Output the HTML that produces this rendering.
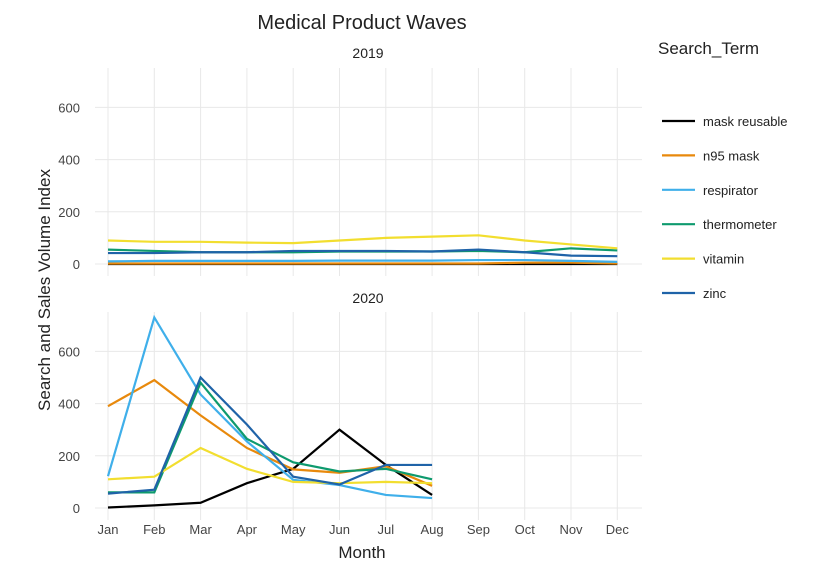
<!DOCTYPE html>
<html><head><meta charset="utf-8"><style>
body{margin:0;background:#fff;font-family:"Liberation Sans",sans-serif}
</style></head><body>
<svg id="chart" width="840" height="583" xmlns="http://www.w3.org/2000/svg" font-family="Liberation Sans, sans-serif"></svg>
<script>
const months=["Jan","Feb","Mar","Apr","May","Jun","Jul","Aug","Sep","Oct","Nov","Dec"];
const terms=["mask reusable","n95 mask","respirator","thermometer","vitamin","zinc"];
const colors=["#000000","#E8890C","#3FAFEA","#0E9A6E","#F2DE2F","#1F63A8"];
const yTicks=[0,200,400,600];
const d2019_mask=[0,0,0,0,0,0,0,0,0,0,0,0];
const d2019_n95=[2,2,2,2,2,2,2,2,2,5,5,2];
const d2019_resp=[10,12,12,12,12,13,13,13,15,15,12,8];
const d2019_therm=[55,50,45,45,45,48,48,48,50,45,60,52];
const d2019_vit=[90,85,85,82,80,90,100,105,110,90,75,60];
const d2019_zinc=[42,42,45,45,50,50,50,48,55,45,32,30];
const d2020_mask=[2,10,20,95,150,300,165,50];
const d2020_n95=[390,490,355,230,148,135,160,85];
const d2020_resp=[122,730,435,255,108,88,50,38];
const d2020_therm=[60,60,480,265,175,140,150,110];
const d2020_vit=[110,120,230,150,100,95,100,95];
const d2020_zinc=[55,70,500,320,120,90,165,165];
const s2019=[d2019_mask,d2019_n95,d2019_resp,d2019_therm,d2019_vit,d2019_zinc];
const s2020=[d2020_mask,d2020_n95,d2020_resp,d2020_therm,d2020_vit,d2020_zinc];

const svg=document.getElementById('chart');
const NS="http://www.w3.org/2000/svg";
function mk(t,a,txt){const e=document.createElementNS(NS,t);for(const k in a)e.setAttribute(k,a[k]);if(txt!=null)e.textContent=txt;svg.appendChild(e);return e;}
const x0=95,x1=642;
const xScale=i=>108+i*46.3;
const panels=[{label:"2019",zero:264,top:68,bot:276,data:s2019,ly:53},{label:"2020",zero:508,top:312,bot:520,data:s2020,ly:298}];
const ppu=52.2/200;
panels.forEach((p,pi)=>{
  const ys=v=>p.zero-v*ppu;
  for(let i=0;i<12;i++){
    const g=mk('line',{x1:xScale(i),x2:xScale(i),y1:p.top,y2:p.bot,stroke:'#e8e8e8','stroke-width':1});
    
    
  }
  yTicks.forEach(t=>{
    const g=mk('line',{x1:x0,x2:x1,y1:ys(t),y2:ys(t),stroke:'#e8e8e8','stroke-width':1});
    
    
    const l=mk('text',{x:80,y:ys(t)+5,'text-anchor':'end','font-size':13,fill:'#444'},t);
    
    
  });
  const st=mk('text',{x:368,y:p.ly+5,'text-anchor':'middle','font-size':14,fill:'#222'},p.label);
  
  
  p.data.forEach((arr,si)=>{
    const pts=arr.map((v,i)=>xScale(i)+','+ys(v)).join(' ');
    const l=mk('polyline',{points:pts,fill:'none',stroke:colors[si],'stroke-width':2.2});
    
    
  });
});
months.forEach((m,i)=>{
  const t=mk('text',{x:xScale(i),y:534,'text-anchor':'middle','font-size':13,fill:'#444'},m);
  
  
});
let e=mk('text',{x:362,y:29,'text-anchor':'middle','font-size':20,fill:'#222'},'Medical Product Waves');


e=mk('text',{x:362,y:558,'text-anchor':'middle','font-size':17,fill:'#222'},'Month');


e=mk('text',{x:50,y:290,'text-anchor':'middle','font-size':17,fill:'#222',transform:'rotate(-90 50 290)'},'Search and Sales Volume Index');


e=mk('text',{x:658,y:54,'font-size':17,fill:'#222'},'Search_Term');


terms.forEach((t,i)=>{
  const y=121+i*34.4;
  const l=mk('line',{x1:662,x2:695,y1:y,y2:y,stroke:colors[i],'stroke-width':2.2});
  
  
  const tx=mk('text',{x:703,y:y+5,'font-size':13,fill:'#222'},t);
  
  
});
</script>
</body></html>
